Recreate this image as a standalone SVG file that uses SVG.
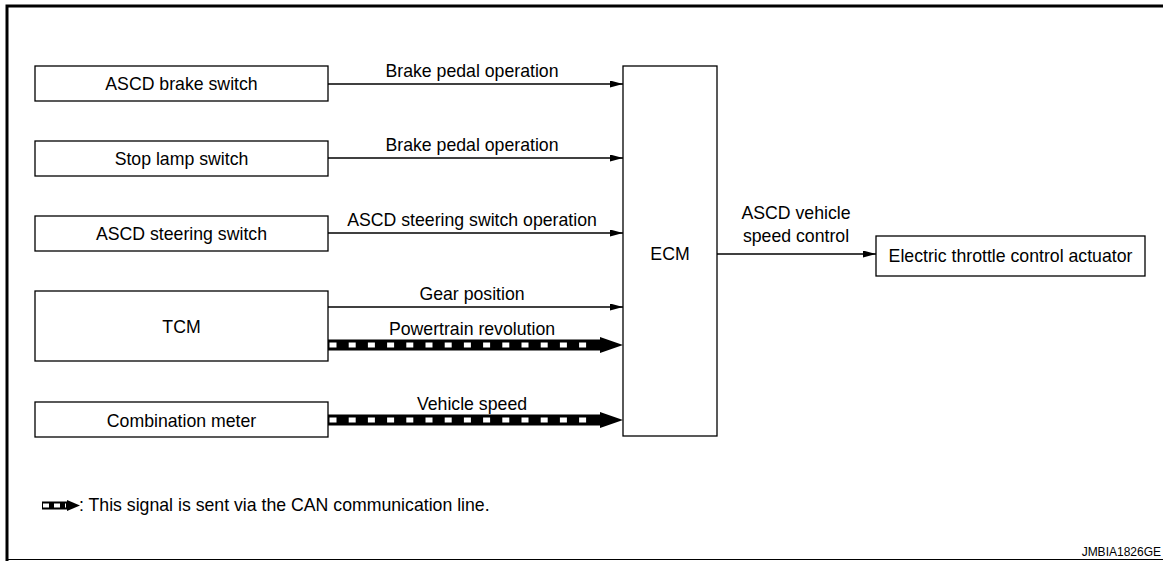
<svg xmlns="http://www.w3.org/2000/svg" width="1163" height="561" viewBox="0 0 1163 561">
<style>
  .box { fill: #fff; stroke: #000; stroke-width: 1.3; }
  .t { font-family: "Liberation Sans", Arial, sans-serif; font-size: 17.7px; fill: #000; text-anchor: middle; }
  .thin { stroke: #000; stroke-width: 1.3; fill: none; marker-end: url(#ah); }
  .band { fill: #000; }
  .dash { stroke: #fff; stroke-width: 5; stroke-dasharray: 7 12.2; fill: none; }
</style>
<defs>
  <marker id="ah" viewBox="0 0 13 7" refX="13" refY="3.5" markerWidth="13" markerHeight="7" markerUnits="userSpaceOnUse" orient="auto">
    <path d="M0,0 L13,3.5 L0,7 Z" fill="#000"/>
  </marker>
</defs>
<rect width="1163" height="561" fill="#fff"/>
<g id="frame">
  <path d="M7,561 L7,6 L1163,6" fill="none" stroke="#000" stroke-width="3"/>
  <line x1="6" y1="559.5" x2="1163" y2="559.5" stroke="#000" stroke-width="1"/>
</g>
<g id="n-brake"><rect class="box" x="35" y="66" width="293" height="35"/><text class="t" x="181.5" y="90">ASCD brake switch</text></g>
<g id="n-stop"><rect class="box" x="35" y="141" width="293" height="35"/><text class="t" x="181.5" y="165">Stop lamp switch</text></g>
<g id="n-steer"><rect class="box" x="35" y="216" width="293" height="35"/><text class="t" x="181.5" y="240">ASCD steering switch</text></g>
<g id="n-tcm"><rect class="box" x="35" y="291" width="293" height="70"/><text class="t" x="181.5" y="333">TCM</text></g>
<g id="n-meter"><rect class="box" x="35" y="402" width="293" height="35"/><text class="t" x="181.5" y="427">Combination meter</text></g>
<g id="n-ecm"><rect class="box" x="623" y="66" width="94" height="370"/><text class="t" x="670" y="260">ECM</text></g>
<g id="n-etc"><rect class="box" x="876" y="236" width="269" height="40"/><text class="t" x="1010.5" y="262">Electric throttle control actuator</text></g>
<g id="connectors">
  <line class="thin" x1="328" y1="84" x2="623" y2="84"/>
  <line class="thin" x1="328" y1="158" x2="623" y2="158"/>
  <line class="thin" x1="328" y1="233" x2="623" y2="233"/>
  <line class="thin" x1="328" y1="307" x2="623" y2="307"/>
  <line class="thin" x1="717" y1="254" x2="876" y2="254"/>
  <g id="can1">
    <rect class="band" x="328" y="339.5" width="273" height="11"/>
    <line class="dash" x1="329.5" y1="345" x2="597" y2="345"/>
    <path d="M600,337 L623,345 L600,353 Z" fill="#000"/>
  </g>
  <g id="can2">
    <rect class="band" x="328" y="414.5" width="273" height="11"/>
    <line class="dash" x1="329.5" y1="420" x2="597" y2="420"/>
    <path d="M600,412 L623,420 L600,428 Z" fill="#000"/>
  </g>
</g>
<g id="labels">
  <text class="t" x="472" y="77">Brake pedal operation</text>
  <text class="t" x="472" y="151">Brake pedal operation</text>
  <text class="t" x="472" y="226">ASCD steering switch operation</text>
  <text class="t" x="472" y="300">Gear position</text>
  <text class="t" x="472" y="335">Powertrain revolution</text>
  <text class="t" x="472" y="410">Vehicle speed</text>
  <text class="t" x="796" y="219">ASCD vehicle</text>
  <text class="t" x="796" y="242">speed control</text>
</g>
<g id="legend">
  <rect x="42" y="501.5" width="27" height="8" fill="#000"/>
  <line x1="43" y1="505.5" x2="66" y2="505.5" stroke="#fff" stroke-width="4" stroke-dasharray="6 5"/>
  <path d="M67,500 L80,505.5 L67,511 Z" fill="#000"/>
  <text x="79" y="511" font-family="Liberation Sans, Arial, sans-serif" font-size="17.7" fill="#000">: This signal is sent via the CAN communication line.</text>
</g>
<text x="1161" y="556" font-family="Liberation Sans, Arial, sans-serif" font-size="12" fill="#000" text-anchor="end">JMBIA1826GE</text>
</svg>
